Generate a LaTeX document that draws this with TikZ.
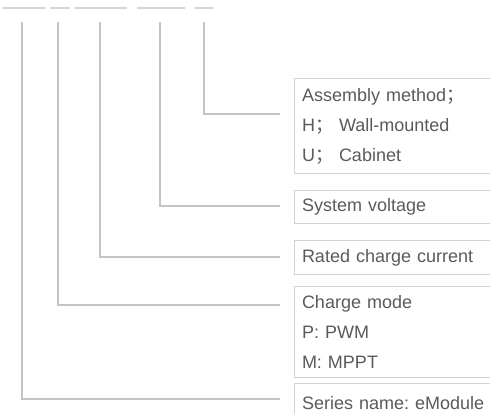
\documentclass[tikz,border=0pt]{standalone}
\usepackage{fontspec}
\setmainfont{Liberation Sans}
\newfontfamily\cjk{Noto Sans CJK SC}
\definecolor{linegray}{HTML}{C4C4C4}
\definecolor{boxgray}{HTML}{D2D2D2}
\definecolor{textgray}{HTML}{5A5A5A}
\frenchspacing
\begin{document}
\begin{tikzpicture}[x=1pt,y=-1pt,
  lead/.style={draw=linegray,line width=1.3pt},
  topline/.style={draw=linegray!70,line width=1.2pt},
  box/.style={draw=boxgray,line width=1pt,anchor=north west,minimum width=220pt,
    text width=205pt,inner xsep=5pt,inner ysep=0pt,align=left,text=textgray,
    font=\fontsize{18}{30}\selectfont}]
\useasboundingbox (0,0) rectangle (490,413);
\begin{scope}
\clip (0,0) rectangle (490,413);
% boxes
\node[box,minimum height=95pt] (asm) at (294,78) {Assembly method{\cjk ；}\\H{\cjk ；} Wall-mounted\\U{\cjk ；} Cabinet};
\node[box,minimum height=33pt] (sv) at (294,190) {System voltage};
\node[box,minimum height=34pt] (rc) at (294,240) {Rated charge current};
\node[box,minimum height=91pt] (cm) at (294,286) {Charge mode\\P: PWM\\M: MPPT};
\node[box,minimum height=40pt] (sn) at (294,383) {Series name: eModule};
% top underlines
\draw[topline] (3,8) -- (45,8) (50,8) -- (70,8) (75,8) -- (127,8) (137,8) -- (185,8) (195,8) -- (213,8);
% lead start and end points
\coordinate (t1) at (22,22);  \coordinate (e1) at (280,399);
\coordinate (t2) at (58,22);  \coordinate (e2) at (280,305);
\coordinate (t3) at (100,22); \coordinate (e3) at (280,257);
\coordinate (t4) at (160,22); \coordinate (e4) at (280,206);
\coordinate (t5) at (204,22); \coordinate (e5) at (280,114);
\draw[lead] (t1) |- (e1);
\draw[lead] (t2) |- (e2);
\draw[lead] (t3) |- (e3);
\draw[lead] (t4) |- (e4);
\draw[lead] (t5) |- (e5);
\end{scope}
\end{tikzpicture}
\end{document}
